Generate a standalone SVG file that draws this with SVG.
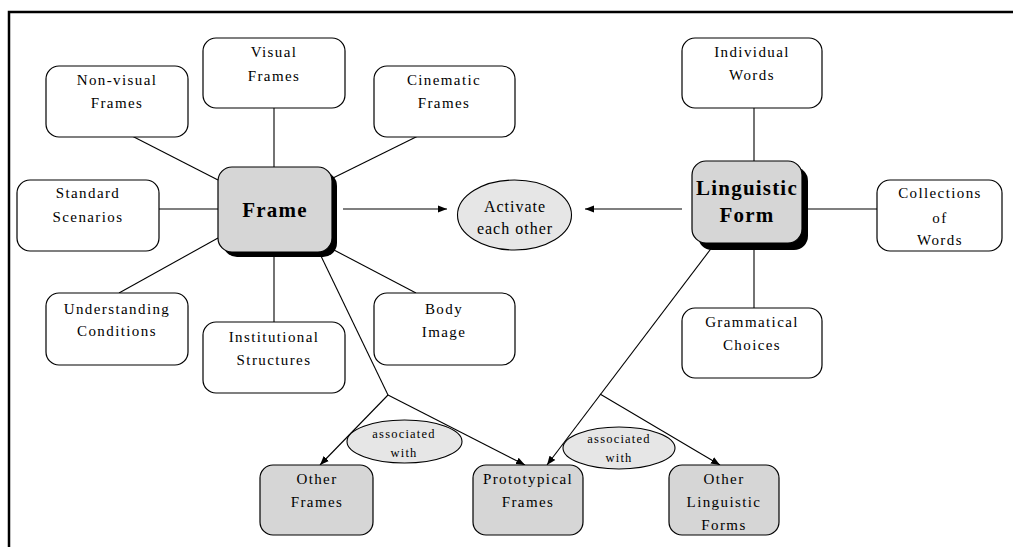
<svg xmlns="http://www.w3.org/2000/svg" width="1013" height="547" viewBox="0 0 1013 547" font-family="Liberation Serif, DejaVu Serif, Noto Serif, serif">
<style>
.box{fill:#fff;stroke:#000;stroke-width:1.2}
.gbox{fill:#d6d6d6;stroke:#000;stroke-width:1.2}
.ell{fill:#e6e6e6;stroke:#000;stroke-width:1.1}
.shadow{fill:#000}
text{text-anchor:middle;fill:#000}
.t{font-size:15px;letter-spacing:1.4px}
.s{font-size:12.5px;letter-spacing:1.2px}
.a{font-size:16px;letter-spacing:1px}
.b{font-size:21px;font-weight:bold;letter-spacing:1.2px}
.c{stroke:#000;stroke-width:1.1;fill:none}
</style>
<defs>
<marker id="arr" viewBox="0 0 10 10" refX="10" refY="5" markerWidth="9" markerHeight="9" markerUnits="userSpaceOnUse" orient="auto">
<path d="M0,1 L10,5 L0,9 Z" fill="#000"/>
</marker>
</defs>
<rect x="0" y="0" width="1013" height="547" fill="#fff"/>
<path d="M9,547 V12 H1013" stroke="#000" stroke-width="2.5" fill="none"/>

<g id="connectors">
<line class="c" x1="132" y1="136" x2="218" y2="180"/>
<line class="c" x1="274" y1="108" x2="274" y2="167"/>
<line class="c" x1="418" y1="136" x2="333" y2="178"/>
<line class="c" x1="159" y1="209" x2="218" y2="209"/>
<line class="c" x1="119" y1="293" x2="218" y2="238"/>
<line class="c" x1="274" y1="257" x2="274" y2="322"/>
<line class="c" x1="416" y1="293" x2="334" y2="250"/>
<line class="c" x1="343" y1="209" x2="447" y2="209" marker-end="url(#arr)"/>
<line class="c" x1="682" y1="209" x2="585" y2="209" marker-end="url(#arr)"/>
<line class="c" x1="754" y1="108" x2="754" y2="161"/>
<line class="c" x1="808" y1="209" x2="877" y2="209"/>
<line class="c" x1="754" y1="250" x2="754" y2="308"/>
<polyline class="c" points="320,254 388,395"/>
<line class="c" x1="388" y1="395" x2="320" y2="465" marker-end="url(#arr)"/>
<line class="c" x1="388" y1="395" x2="525" y2="465" marker-end="url(#arr)"/>
<line class="c" x1="713" y1="246" x2="547" y2="465" marker-end="url(#arr)"/>
<line class="c" x1="600" y1="394" x2="720" y2="465" marker-end="url(#arr)"/>
</g>

<g id="non-visual-frames">
<rect class="box" x="46" y="66" width="142" height="71" rx="13"/>
<text class="t" x="117" y="85">Non-visual</text>
<text class="t" x="117" y="108">Frames</text>
</g>
<g id="visual-frames">
<rect class="box" x="203" y="38" width="142" height="70" rx="13"/>
<text class="t" x="274" y="57">Visual</text>
<text class="t" x="274" y="81">Frames</text>
</g>
<g id="cinematic-frames">
<rect class="box" x="374" y="66" width="141" height="71" rx="13"/>
<text class="t" x="444" y="85">Cinematic</text>
<text class="t" x="444" y="108">Frames</text>
</g>
<g id="standard-scenarios">
<rect class="box" x="17" y="180" width="142" height="71" rx="13"/>
<text class="t" x="88" y="198">Standard</text>
<text class="t" x="88" y="222">Scenarios</text>
</g>
<g id="frame">
<rect class="shadow" x="223" y="172" width="114" height="85" rx="14"/>
<rect class="gbox" x="218" y="167" width="114" height="85" rx="14"/>
<text class="b" x="275" y="217">Frame</text>
</g>
<g id="understanding-conditions">
<rect class="box" x="46" y="293" width="142" height="72" rx="13"/>
<text class="t" x="117" y="314">Understanding</text>
<text class="t" x="117" y="336">Conditions</text>
</g>
<g id="institutional-structures">
<rect class="box" x="203" y="322" width="142" height="71" rx="13"/>
<text class="t" x="274" y="342">Institutional</text>
<text class="t" x="274" y="365">Structures</text>
</g>
<g id="body-image">
<rect class="box" x="374" y="293" width="141" height="72" rx="13"/>
<text class="t" x="444" y="314">Body</text>
<text class="t" x="444" y="337">Image</text>
</g>
<g id="activate">
<ellipse class="ell" cx="514.5" cy="215" rx="57" ry="35"/>
<text class="a" x="515" y="212">Activate</text>
<text class="a" x="515" y="234">each other</text>
</g>
<g id="individual-words">
<rect class="box" x="682" y="38" width="140" height="70" rx="13"/>
<text class="t" x="752" y="57">Individual</text>
<text class="t" x="752" y="80">Words</text>
</g>
<g id="linguistic-form">
<rect class="shadow" x="698" y="167" width="110" height="83" rx="14"/>
<rect class="gbox" x="692" y="161" width="110" height="82" rx="14"/>
<text class="b" x="747" y="195">Linguistic</text>
<text class="b" x="747" y="222">Form</text>
</g>
<g id="collections-of-words">
<rect class="box" x="877" y="180" width="125" height="71" rx="13"/>
<text class="t" x="940" y="198">Collections</text>
<text class="t" x="940" y="223">of</text>
<text class="t" x="940" y="245">Words</text>
</g>
<g id="grammatical-choices">
<rect class="box" x="682" y="308" width="140" height="70" rx="13"/>
<text class="t" x="752" y="327">Grammatical</text>
<text class="t" x="752" y="350">Choices</text>
</g>
<g id="associated-with-1">
<ellipse class="ell" cx="404.5" cy="441.5" rx="57.5" ry="21.5"/>
<text class="s" x="404" y="438">associated</text>
<text class="s" x="404" y="457">with</text>
</g>
<g id="associated-with-2">
<ellipse class="ell" cx="619" cy="448" rx="56" ry="21"/>
<text class="s" x="619" y="443">associated</text>
<text class="s" x="619" y="462">with</text>
</g>
<g id="other-frames">
<rect class="gbox" x="260" y="465" width="113" height="70" rx="13"/>
<text class="t" x="317" y="484">Other</text>
<text class="t" x="317" y="507">Frames</text>
</g>
<g id="prototypical-frames">
<rect class="gbox" x="473" y="465" width="110" height="70" rx="13"/>
<text class="t" x="528" y="484">Prototypical</text>
<text class="t" x="528" y="507">Frames</text>
</g>
<g id="other-linguistic-forms">
<rect class="gbox" x="669" y="465" width="110" height="70" rx="13"/>
<text class="t" x="724" y="484">Other</text>
<text class="t" x="724" y="507">Linguistic</text>
<text class="t" x="724" y="530">Forms</text>
</g>
</svg>
